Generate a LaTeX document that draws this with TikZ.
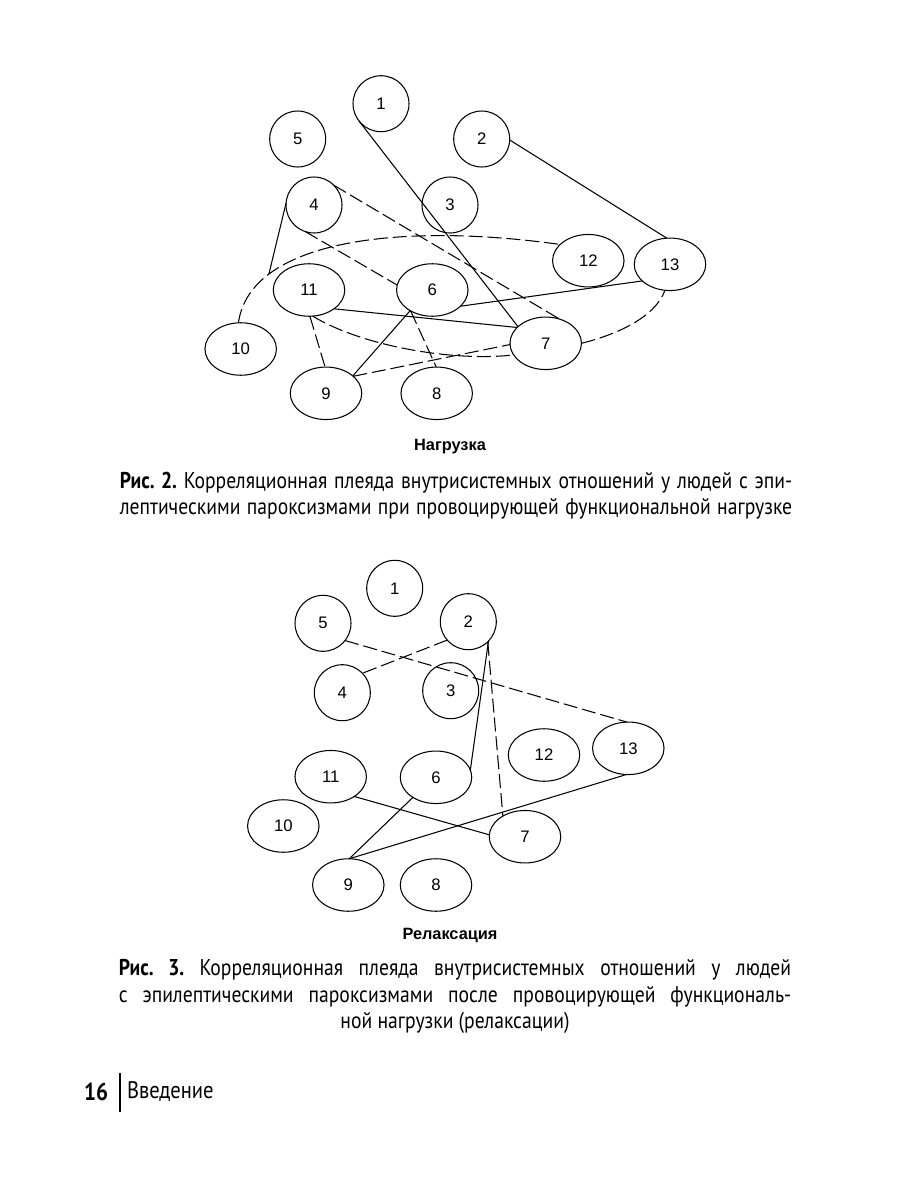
\documentclass[tikz,border=0pt]{standalone}
\usepackage{fontspec}
\setmainfont{Liberation Sans}
\newfontfamily\capfont[FakeStretch=0.86]{PT Sans}
\usetikzlibrary{shapes.geometric}

\begin{document}
\begin{tikzpicture}[x=0.02cm,y=-0.02cm,
  every node/.style={inner sep=0pt,outer sep=0pt},
  ring/.style={draw,ellipse,line width=0.6pt,minimum width=1.12cm,minimum height=1.12cm,font=\fontsize{9.5}{11}\selectfont},
  oval/.style={ring,minimum width=1.43cm,minimum height=1.05cm},
  link/.style={line width=0.6pt},
  dashlink/.style={link,dash pattern=on 8pt off 2.8pt},
  title/.style={font=\bfseries\fontsize{9.3}{11}\selectfont},
  caption/.style={text width=13.45cm,align=justify,font=\capfont\frenchspacing\fontsize{13}{15}\selectfont}]
\useasboundingbox (0,0) rectangle (900,1200);

% Fig. 2 -- load
\node[ring] at (381,103.7) (load1) {1};
\node[ring] at (481.7,139) (load2) {2};
\node[ring] at (450,205) (load3) {3};
\node[ring] at (314,205) (load4) {4};
\node[ring] at (297.7,139) (load5) {5};
\node[oval] at (432.3,290) (load6) {6};
\node[oval] at (545.7,343.3) (load7) {7};
\node[oval] at (436.7,393.3) (load8) {8};
\node[oval] at (326,393.3) (load9) {9};
\node[oval] at (240.7,349) (load10) {10};
\node[oval] at (309,290) (load11) {11};
\node[oval] at (588.3,260.7) (load12) {12};
\node[oval] at (670,264.3) (load13) {13};

\draw[link] (load1.218) -- (load7.149);
\draw[link] (load2.358) -- (load13.97);
\draw[link] (load13.211) -- (load6.330);
\draw[link] (load11.323) -- (load7.151);
\draw[link] (load6.223) -- (load9.33);
\draw[dashlink] (load4.45) -- (load7.60);
\draw[dashlink] (load4.252) -- (load6.172);
\draw[dashlink] (load11.272) -- (load9.92);
\draw[dashlink] (load6.224) -- (load8.91);
\draw[dashlink] (load9.32) -- (load7.182);
\draw[dashlink] (load10.95) .. controls (250,240) and (400,222) .. (load12.150) coordinate[pos=0.24] (arcJoin);
\draw[link] (load4.176) -- (arcJoin);
\draw[dashlink] (load11.278) .. controls (360,345) and (450,362) .. (load7.200);
\draw[dashlink] (load7.east) .. controls (615,335) and (655,318) .. (load13.259);

\node[title] at (450,447) (loadTitle) {Нагрузка};
\node[caption] at (456,496) (loadCaption) {\parfillskip=0pt \textbf{Рис. 2.} Корреляционная плеяда внутрисистемных отношений у~людей с~эпи-\linebreak лептическими пароксизмами при провоцирующей функциональной нагрузке\par};

% Fig. 3 -- relaxation
\node[ring] at (394.7,588.3) (relax1) {1};
\node[ring] at (468.3,621.7) (relax2) {2};
\node[ring] at (450.7,690.7) (relax3) {3};
\node[ring] at (342.3,692.7) (relax4) {4};
\node[ring] at (323,623.3) (relax5) {5};
\node[oval] at (436,777.3) (relax6) {6};
\node[oval] at (525,836.7) (relax7) {7};
\node[oval] at (436,885) (relax8) {8};
\node[oval] at (348.3,885) (relax9) {9};
\node[oval] at (283.3,826) (relax10) {10};
\node[oval] at (330.7,776.7) (relax11) {11};
\node[oval] at (544,755) (relax12) {12};
\node[oval] at (628.3,748.3) (relax13) {13};

\draw[dashlink] (relax5.322) -- (relax13.93);
\draw[dashlink] (relax2.221) -- (relax4.44);
\draw[link] (relax2.316) -- (relax6.12);
\draw[dashlink] (relax2.314) -- (relax7.137);
\draw[link] (relax11.320) -- (relax7.177);
\draw[link] (relax6.221) -- (relax9.88);
\draw[link] (relax9.88) -- (relax13.266);

\node[title] at (450,935) (relaxTitle) {Релаксация};
\node[caption] at (455,996.5) (relaxCaption) {\leftskip=0pt plus 1fil\rightskip=0pt plus -1fil\parfillskip=0pt plus 2fil
  \textbf{Рис. 3.} Корреляционная плеяда внутрисистемных отношений у~людей\linebreak с~эпилептическими пароксизмами после провоцирующей функциональ-\linebreak ной нагрузки (релаксации)\par};

% page footer
\node[font=\capfont\bfseries\fontsize{14}{16}\selectfont,anchor=east] at (108,1092) (pageNum) {16};
\draw[line width=1.1pt] (120,1073) -- (120,1112);
\node[font=\capfont\fontsize{13.6}{16}\selectfont,anchor=west] at (127,1092) (chapter) {Введение};
\end{tikzpicture}
\end{document}
